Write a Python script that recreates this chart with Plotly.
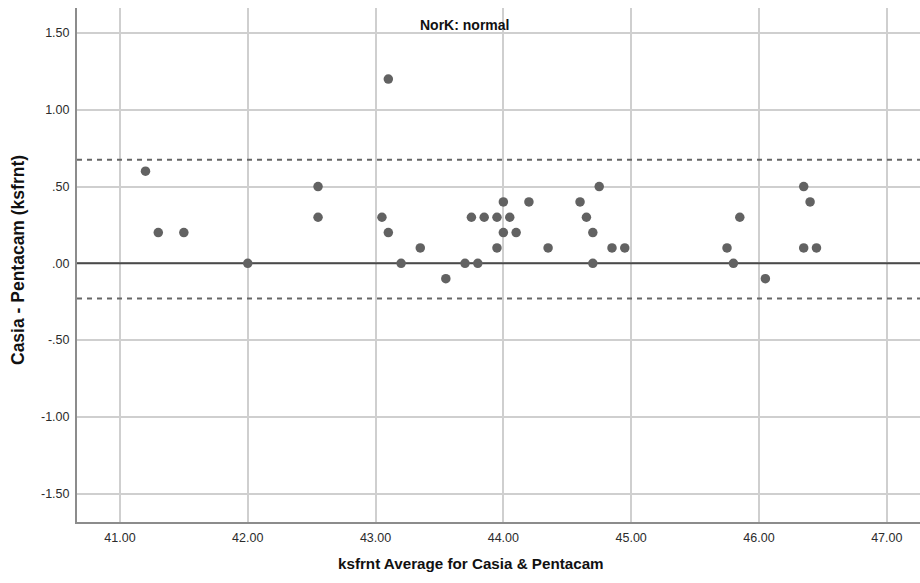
import plotly.graph_objects as go

# Data
avg_ksfrnt = [41.2, 41.3, 41.5, 42.0, 42.55, 42.55, 43.05, 43.1, 43.1, 43.2, 43.35, 43.55,
              43.7, 43.75, 43.8, 43.85, 43.95, 43.95, 44.0, 44.0, 44.05, 44.1, 44.2, 44.35,
              44.6, 44.65, 44.7, 44.7, 44.75, 44.85, 44.95, 45.75, 45.8, 45.85, 46.05,
              46.35, 46.35, 46.4, 46.45]
diff_ksfrnt = [0.6, 0.2, 0.2, 0.0, 0.5, 0.3, 0.3, 1.2, 0.2, 0.0, 0.1, -0.1,
               0.0, 0.3, 0.0, 0.3, 0.3, 0.1, 0.4, 0.2, 0.3, 0.2, 0.4, 0.1,
               0.4, 0.3, 0.2, 0.0, 0.5, 0.1, 0.1, 0.1, 0.0, 0.3, -0.1,
               0.5, 0.1, 0.4, 0.1]
upper_loa = 0.675
lower_loa = -0.23
reference_line = 0.0

x_tickvals = [41, 42, 43, 44, 45, 46, 47]
x_ticktext = ["41.00", "42.00", "43.00", "44.00", "45.00", "46.00", "47.00"]
y_tickvals = [1.5, 1.0, 0.5, 0.0, -0.5, -1.0, -1.5]
y_ticktext = ["1.50", "1.00", ".50", ".00", "-.50", "-1.00", "-1.50"]

x_range = [40.664, 47.26]
y_range = [-1.685, 1.663]

L, T, B = 77, 8, 61
W, H = 920, 583
PW, PH = W - L, H - T - B

fig = go.Figure()

for yv, dash, col in [(upper_loa, "dash", "#666666"), (lower_loa, "dash", "#666666"),
                      (reference_line, "solid", "#4a4a4a")]:
    fig.add_trace(go.Scatter(
        x=x_range, y=[yv, yv], mode="lines",
        line=dict(color=col, width=2, dash="5px,5px" if dash == "dash" else "solid"),
        hoverinfo="skip", showlegend=False, cliponaxis=False))

fig.add_trace(go.Scatter(
    x=avg_ksfrnt, y=diff_ksfrnt, mode="markers",
    marker=dict(color="#626262", size=9.5, line=dict(width=0)),
    showlegend=False))


def px_x(page_x):
    return (page_x - L) / PW


def px_y(page_y):
    return (H - B - page_y) / PH


fig.update_layout(
    width=W, height=H,
    margin=dict(l=L, r=0, t=T, b=B, pad=0),
    paper_bgcolor="white", plot_bgcolor="white",
    font=dict(family="Liberation Sans, Arial, sans-serif", color="#222222"),
    xaxis=dict(range=x_range, tickvals=x_tickvals, ticktext=x_ticktext,
               showgrid=True, gridcolor="#cfcfcf", gridwidth=1.5,
               showline=True, linecolor="#8c8c8c", linewidth=2,
               ticks="", ticklabelstandoff=3, tickfont=dict(size=12.5, color="#2b2b2b"),
               zeroline=False, fixedrange=True, automargin=False),
    yaxis=dict(range=y_range, tickvals=y_tickvals, ticktext=y_ticktext,
               showgrid=True, gridcolor="#cfcfcf", gridwidth=1.5,
               showline=True, linecolor="#8c8c8c", linewidth=2,
               ticks="", ticklabelstandoff=3, tickfont=dict(size=12.5, color="#2b2b2b"),
               zeroline=False, fixedrange=True, automargin=False),
    annotations=[
        dict(text="<b>NorK: normal</b>", xref="paper", yref="paper",
             x=px_x(464), y=px_y(25), xanchor="center", yanchor="middle",
             showarrow=False, font=dict(size=14, color="#111111")),
        dict(text="<b>ksfrnt Average for Casia &amp; Pentacam</b>", xref="paper", yref="paper",
             x=px_x(471), y=px_y(563), xanchor="center", yanchor="middle",
             showarrow=False, font=dict(size=15.2, color="#111111")),
        dict(text="<b>Casia - Pentacam (ksfrnt)</b>", xref="paper", yref="paper",
             x=px_x(18), y=px_y(260), xanchor="center", yanchor="middle", textangle=-90,
             showarrow=False, font=dict(size=17.5, color="#111111")),
    ],
)

fig.write_html(
    "out.html",
    config={"displayModeBar": False},
    post_script="document.body.style.margin='0';document.body.style.overflow='hidden';",
)
